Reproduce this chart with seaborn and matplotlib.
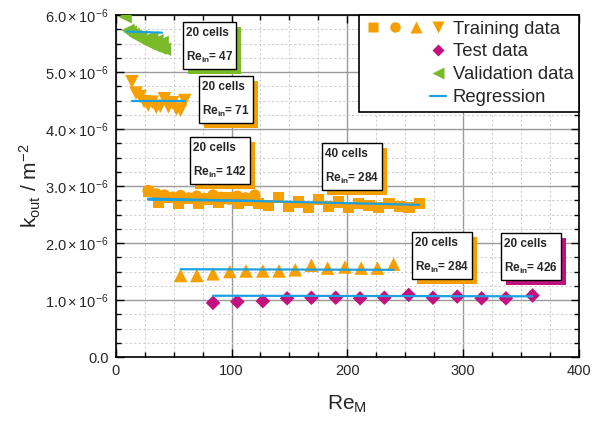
import numpy as np
import pandas as pd
import matplotlib
matplotlib.use("Agg")
import matplotlib.pyplot as plt
import matplotlib.patheffects as pe
from matplotlib.lines import Line2D
from matplotlib.patches import Rectangle
from matplotlib.legend_handler import HandlerTuple
from matplotlib.ticker import MultipleLocator, FuncFormatter
import seaborn as sns

# permeability k_out in units of 1e-6 m^-2, plotted against Re_M

# validation data: 20 cells, Re_in = 47
val_x = [8, 10.5, 12.5, 15, 17, 19.5, 21.5, 24, 26.5, 28.5, 31, 33, 35.5, 38, 40, 42]
val_y = [5.97, 5.73, 5.70, 5.66, 5.63, 5.60, 5.62, 5.55, 5.58, 5.50, 5.60, 5.46, 5.55, 5.42, 5.52, 5.40]

# training data: 20 cells, Re_in = 71
re71_x = [14, 17.5, 21, 24.5, 28, 31.5, 35, 38.5, 42, 45.5, 49, 52.5, 56, 59.5]
re71_y = [4.83, 4.63, 4.57, 4.48, 4.42, 4.47, 4.38, 4.40, 4.53, 4.39, 4.46, 4.35, 4.33, 4.50]

# training data: 20 cells, Re_in = 142
re142_x = [28, 35, 42, 49, 56, 63, 70, 77, 84, 91, 98, 105, 112, 120]
re142_y = [2.92, 2.86, 2.84, 2.80, 2.83, 2.79, 2.82, 2.78, 2.84, 2.80, 2.77, 2.82, 2.79, 2.84]

# training data: 40 cells, Re_in = 284
re284c40_x = [28, 36.7, 45.3, 54, 62.7, 71.3, 80, 88.7, 97.3, 106, 114.7, 123.3, 132, 140.7,
              149.3, 158, 166.7, 175.3, 184, 192.7, 201.3, 210, 218.7, 227.3, 236, 244.7, 253.3, 262]
re284c40_y = [2.90, 2.72, 2.80, 2.70, 2.78, 2.69, 2.76, 2.72, 2.79, 2.70, 2.74, 2.70, 2.66, 2.80,
              2.64, 2.72, 2.62, 2.76, 2.64, 2.72, 2.62, 2.70, 2.66, 2.62, 2.70, 2.64, 2.62, 2.70]

# training data: 20 cells, Re_in = 284
re284_x = [56, 70, 84, 98.5, 112.5, 127, 141, 155, 169, 183, 198, 212, 226, 240]
re284_y = [1.43, 1.43, 1.46, 1.50, 1.51, 1.51, 1.51, 1.53, 1.61, 1.56, 1.58, 1.56, 1.56, 1.63]

# test data: 20 cells, Re_in = 426
test_x = [84, 105, 127, 148, 169, 190, 211, 232, 253, 274, 295, 316, 337, 360]
test_y = [0.95, 0.97, 0.98, 1.03, 1.04, 1.04, 1.03, 1.04, 1.09, 1.04, 1.06, 1.03, 1.03, 1.08]

# regression lines: start/end Re_M and k_out
reg_x0 = [9, 14, 28, 28, 56, 84]
reg_x1 = [40, 60, 120, 262, 240, 360]
reg_y0 = [5.71, 4.50, 2.76, 2.78, 1.54, 1.075]
reg_y1 = [5.69, 4.50, 2.74, 2.67, 1.53, 1.065]

ORANGE = "#F5A000"
GREEN = "#7AB928"
MAGENTA = "#C4107F"
BLUE = "#1BA1E2"

sns.set_style("ticks")
plt.rcParams["font.family"] = ["Liberation Sans", "DejaVu Sans"]
plt.rcParams["mathtext.fontset"] = "custom"
plt.rcParams["mathtext.rm"] = "Liberation Sans"
plt.rcParams["mathtext.it"] = "Liberation Sans:italic"
plt.rcParams["mathtext.bf"] = "Liberation Sans:bold"

fig = plt.figure(figsize=(5.98, 4.23), dpi=100)
ax = fig.add_axes([0.1936, 0.156, 0.7744, 0.8085])

series = [
    (re142_x, re142_y, "o", ORANGE, 70),
    (re284c40_x, re284c40_y, "s", ORANGE, 64),
    (re284_x, re284_y, "^", ORANGE, 95),
    (re71_x, re71_y, "v", ORANGE, 95),
    (val_x, val_y, "<", GREEN, 95),
    (test_x, test_y, "D", MAGENTA, 55),
]
for xs, ys, mk, col, size in series:
    sns.scatterplot(x=xs, y=ys, marker=mk, color=col, s=size, edgecolor="none",
                    legend=False, ax=ax, zorder=3)

for i in range(len(reg_x0)):
    df = pd.DataFrame({"x": [reg_x0[i], reg_x1[i]], "y": [reg_y0[i], reg_y1[i]]})
    sns.lineplot(data=df, x="x", y="y", color=BLUE, lw=1.6, ax=ax, zorder=4)

ax.set_xlim(0, 400)
ax.set_ylim(0, 6)
ax.xaxis.set_major_locator(MultipleLocator(100))
ax.xaxis.set_minor_locator(MultipleLocator(25))
ax.yaxis.set_major_locator(MultipleLocator(1))
ax.yaxis.set_minor_locator(MultipleLocator(0.25))


def fmt(v, pos):
    if abs(v) < 1e-9:
        return "0.0"
    return r"$\mathregular{%.1f\times10^{-6}}$" % v


ax.yaxis.set_major_formatter(FuncFormatter(fmt))
ax.tick_params(which="both", direction="in", top=True, right=True, width=1, color="black")
ax.tick_params(which="major", length=6, labelsize=10.5, pad=5)
ax.tick_params(which="minor", length=3.5)
ax.set_axisbelow(True)
ax.grid(which="major", color="#9a9a9a", lw=1, ls="-")
ax.grid(which="minor", color="#cfcfcf", lw=0.8, ls=(0, (2, 2)))
for sp in ax.spines.values():
    sp.set_color("black")
    sp.set_linewidth(1.2)

ax.set_xlabel(r"$\mathregular{Re_M}$", fontsize=15, labelpad=11)
ax.set_ylabel(r"$\mathregular{k_{out}}$ / $\mathregular{m^{-2}}$", fontsize=15, labelpad=2)

blank = Line2D([], [], ls="none", marker="none")
h_train = tuple(Line2D([], [], ls="none", marker=m, color=ORANGE, markersize=9 if m in "^v" else 7.5,
                       markeredgecolor="none") for m in ["s", "o", "^", "v"])
h_test = (blank, blank, blank, Line2D([], [], ls="none", marker="D", color=MAGENTA,
                                       markersize=6.5, markeredgecolor="none"))
h_val = (blank, blank, blank, Line2D([], [], ls="none", marker="<", color=GREEN,
                                      markersize=9, markeredgecolor="none"))
h_reg = (blank, blank, blank, Line2D([], [], color=BLUE, lw=1.6))
leg = ax.legend([h_train, h_test, h_val, h_reg],
                ["Training data", "Test data", "Validation data", "Regression"],
                handler_map={tuple: HandlerTuple(ndivide=None, pad=0.3)},
                loc="upper right", borderaxespad=0, fontsize=13.3, handlelength=4.4,
                handletextpad=0.35, labelspacing=0.32, borderpad=0.3, fancybox=False,
                framealpha=1, edgecolor="black")
leg.get_frame().set_linewidth(1.2)
leg.set_zorder(7)

# annotation boxes with coloured offset shadow
boxes = [
    (58, 5.88, "20", "47", GREEN),
    (72, 4.93, "20", "71", ORANGE),
    (64, 3.86, "20", "142", ORANGE),
    (178, 3.75, "40", "284", ORANGE),
    (255.5, 2.20, "20", "284", ORANGE),
    (333, 2.17, "20", "426", MAGENTA),
]
texts = []
for bx, by, cells, re, col in boxes:
    t = ax.text(bx, by, f"{cells} cells\n" + r"$\mathbf{Re_{in}}$" + f"= {re}",
                fontsize=8.5, fontweight="bold", ha="left", va="top", linespacing=2.0,
                zorder=6, transform=ax.transData)
    texts.append(t)

# shift text inside the box, then draw box around its extent
fig.canvas.draw()
inv = ax.transData.inverted()
for t, (bx, by, cells, re, col) in zip(texts, boxes):
    px, py = ax.transData.transform((bx, by))
    t.set_position(inv.transform((px + 3, py - 5)))
fig.canvas.draw()
renderer = fig.canvas.get_renderer()
for t, (bx, by, cells, re, col) in zip(texts, boxes):
    ext = t.get_window_extent(renderer)
    x0, y0 = inv.transform((ext.x0 - 3, ext.y0 - 4))
    x1, y1 = inv.transform((ext.x1 + 3, ext.y1 + 5))
    rect = Rectangle((x0, y0), x1 - x0, y1 - y0, fc="white", ec="black", lw=1, zorder=5)
    rect.set_path_effects([pe.SimplePatchShadow(offset=(3.6, -3.6), shadow_rgbFace=col, alpha=1.0),
                           pe.Normal()])
    ax.add_patch(rect)

fig.savefig("out.png", dpi=100)
